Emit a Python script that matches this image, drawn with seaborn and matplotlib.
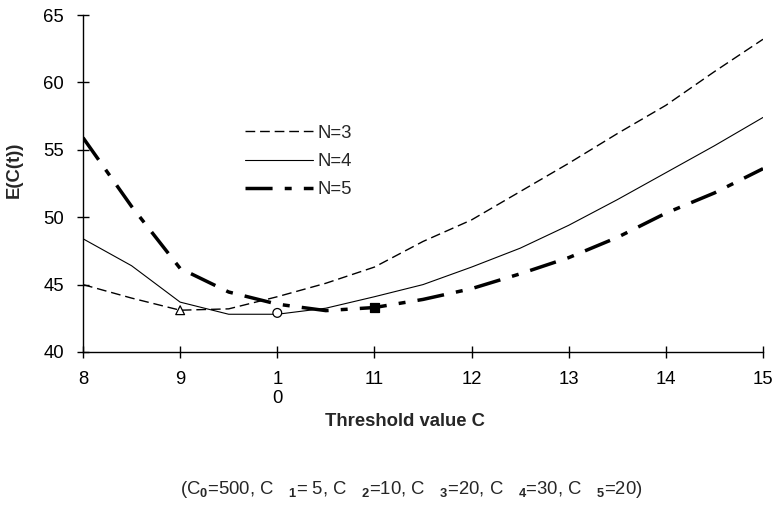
import pandas as pd
import seaborn as sns
import matplotlib
matplotlib.use("Agg")
import matplotlib.pyplot as plt

# threshold values and expected cost curves
threshold = [8, 8.5, 9, 9.5, 10, 10.5, 11, 11.5, 12, 12.5, 13, 13.5, 14, 14.5, 15]
cost_n3 = [45.0, 44.0, 43.1, 43.2, 44.1, 45.1, 46.3, 48.2, 49.8, 51.9, 54.0, 56.2, 58.3, 60.8, 63.2]
cost_n4 = [48.4, 46.4, 43.7, 42.8, 42.8, 43.25, 44.1, 45.0, 46.3, 47.7, 49.4, 51.3, 53.3, 55.3, 57.4]
cost_n5 = [55.9, 50.8, 46.2, 44.45, 43.55, 43.07, 43.3, 43.9, 44.7, 45.8, 47.0, 48.5, 50.3, 51.8, 53.6]

series_names = ["N=3", "N=4", "N=5"]
# optimum points marked on each curve
opt_c = [9, 10, 11]
opt_cost = [43.1, 42.9, 43.3]

x_ticks = [8, 9, 10, 11, 12, 13, 14, 15]
x_ticklabels = ["8", "9", "1\n0", "11", "12", "13", "14", "15"]
y_ticks = [40, 45, 50, 55, 60, 65]

df = pd.DataFrame({"C": threshold * 3,
                   "cost": cost_n3 + cost_n4 + cost_n5,
                   "N": [n for n in series_names for _ in threshold]})
opt_df = pd.DataFrame({"C": opt_c, "cost": opt_cost, "N": series_names})

sns.set_style("ticks")
plt.rcParams["font.family"] = ["Liberation Sans", "DejaVu Sans"]
plt.rcParams["mathtext.fontset"] = "custom"
plt.rcParams["mathtext.rm"] = "Liberation Sans"
plt.rcParams["mathtext.bf"] = "Liberation Sans:bold"

fs = 13.3

fig = plt.figure(figsize=(7.75, 5.05), dpi=100)
ax = fig.add_axes([83 / 775, 1 - 352 / 505, 680 / 775, 337 / 505])

line_styles = {"N=3": dict(lw=1.0, linestyle=(0, (7, 3.5))),
               "N=4": dict(lw=0.8, linestyle="-"),
               "N=5": dict(lw=2.5, linestyle=(0, (7.8, 3.5, 2, 3.5)))}

for name in series_names:
    sub = df[df["N"] == name]
    sns.lineplot(data=sub, x="C", y="cost", color="black", ax=ax,
                 label=name, **line_styles[name])

sns.scatterplot(data=opt_df, x="C", y="cost", hue="N", style="N",
                palette={"N=3": "white", "N=4": "white", "N=5": "black"},
                markers={"N=3": "^", "N=4": "o", "N=5": "s"},
                s=40, edgecolor="black", linewidth=0.9, legend=False,
                zorder=5, ax=ax)

ax.set_xlim(8, 15)
ax.set_ylim(40, 65)
ax.set_xticks(x_ticks)
ax.set_xticklabels(x_ticklabels)
ax.set_yticks(y_ticks)
ax.tick_params(direction="inout", length=9, width=1, pad=9, labelsize=fs, colors="black")
sns.despine(ax=ax)
for sp in ["left", "bottom"]:
    ax.spines[sp].set_linewidth(1.0)
    ax.spines[sp].set_color("black")

ax.set_xlabel("Threshold value C", fontsize=fs, fontweight="bold")
ax.xaxis.label.set_va("center")
ax.xaxis.set_label_coords((405 - 83) / 680, (352 - 421) / 337)
ax.set_ylabel("E(C(t))", fontsize=fs, fontweight="bold")
ax.yaxis.label.set_va("center")
ax.yaxis.set_label_coords((14 - 83) / 680, (352 - 170) / 337)

ax.legend(loc="center left", bbox_to_anchor=(245 / 775, 1 - 161.5 / 505),
          bbox_transform=fig.transFigure, frameon=False, fontsize=fs,
          handlelength=3.7, handletextpad=0.22, labelspacing=0.62,
          borderpad=0, borderaxespad=0)

fig.text(411 / 775, 1 - 489 / 505,
         r"(C$_\mathbf{0}$=500, C   $_\mathbf{1}$= 5, C   $_\mathbf{2}$=10, "
         r"C   $_\mathbf{3}$=20, C   $_\mathbf{4}$=30, C   $_\mathbf{5}$=20)",
         ha="center", va="center", fontsize=fs)

fig.savefig("out.png", dpi=100)
